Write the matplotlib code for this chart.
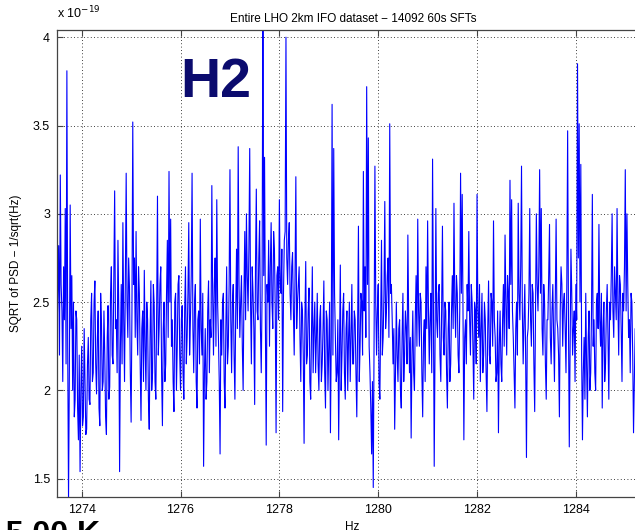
#!/usr/bin/env python3
"""
Recreate the H2 line-search spectrum panel:
  SQRT of PSD across 1273.5-1285.5 Hz, entire LHO 2km IFO dataset (14092 60s SFTs).
Writes out.png (635x530).
"""

import numpy as np
import matplotlib
matplotlib.use("Agg")
import matplotlib.pyplot as plt
import matplotlib.ticker as mticker

# ── Data (values in units of 1e-19 / sqrt(Hz)), one bin every 1/60 Hz ───────
F_START = 1273.5
F_STEP = 1.0 / 60.0

ASD = [
    2.30, 2.55, 2.82, 2.20, 3.22, 2.60, 2.45, 2.05, 2.70, 2.40, 3.03, 2.15, 3.81, 2.25, 1.38, 2.10, 3.05, 2.35, 2.65, 2.00,
    2.50, 1.85, 1.95, 2.45, 2.40, 1.90, 1.72, 2.20, 1.54, 2.00, 2.25, 1.80, 1.85, 2.35, 2.05, 1.75, 1.78, 2.15, 2.30, 1.95,
    1.92, 2.40, 2.55, 2.05, 2.10, 2.50, 2.62, 2.15, 1.98, 2.30, 2.45, 1.90, 1.80, 2.55, 2.38, 2.00, 2.05, 2.45, 2.20, 1.85,
    1.75, 2.30, 2.48, 1.95, 2.02, 2.55, 2.70, 2.20, 2.15, 2.65, 3.13, 2.35, 2.40, 2.10, 2.85, 2.45, 1.54, 2.25, 2.60, 2.15,
    2.95, 2.40, 2.05, 2.65, 3.23, 2.50, 2.30, 2.75, 2.58, 2.10, 1.82, 2.45, 3.52, 2.60, 2.75, 2.30, 2.90, 2.40, 2.20, 2.70,
    2.55, 2.15, 1.83, 2.35, 2.45, 2.05, 2.68, 2.25, 2.00, 2.50, 2.40, 1.95, 1.78, 2.30, 2.62, 2.00, 2.10, 2.60, 2.48, 2.05,
    1.95, 2.45, 3.10, 2.20, 2.35, 2.60, 2.70, 2.10, 1.80, 2.35, 2.50, 2.05, 2.15, 2.55, 2.85, 2.30, 3.24, 2.50, 2.97, 2.25,
    2.40, 2.05, 1.88, 2.50, 2.55, 2.00, 2.25, 2.60, 2.65, 2.20, 2.00, 2.40, 2.48, 2.10, 1.95, 2.45, 2.70, 2.15, 2.30, 2.55,
    2.95, 2.20, 2.40, 2.65, 3.23, 2.35, 2.10, 2.50, 2.60, 2.05, 1.90, 2.40, 2.45, 2.15, 2.97, 2.35, 2.20, 2.55, 1.57, 2.10,
    2.35, 1.95, 2.05, 2.45, 2.62, 2.10, 2.40, 2.30, 3.16, 2.55, 2.20, 2.60, 2.75, 2.25, 3.08, 2.50, 2.30, 2.05, 1.64, 2.40,
    2.20, 2.50, 2.55, 2.05, 1.90, 2.35, 2.70, 2.15, 2.25, 2.60, 3.25, 2.40, 2.10, 2.50, 2.60, 2.20, 1.95, 2.45, 2.80, 2.35,
    3.38, 2.60, 2.30, 2.50, 2.65, 2.25, 2.00, 2.55, 2.90, 2.40, 3.00, 2.65, 2.45, 2.80, 3.37, 2.50, 2.15, 2.70, 2.55, 2.35,
    1.92, 2.70, 3.14, 2.45, 2.40, 2.75, 2.96, 2.35, 2.10, 2.55, 4.30, 2.65, 3.32, 2.40, 1.69, 2.60, 2.50, 2.85, 2.25, 2.70,
    2.95, 2.50, 2.35, 2.90, 2.80, 2.45, 1.76, 2.65, 2.70, 2.40, 3.08, 2.60, 2.55, 2.80, 1.88, 2.55, 2.85, 2.90, 4.00, 2.75,
    2.60, 2.85, 2.95, 2.55, 2.40, 2.70, 2.78, 2.45, 2.20, 2.65, 3.21, 2.35, 2.50, 2.60, 2.70, 2.30, 2.05, 2.50, 2.45, 2.20,
    1.70, 2.40, 2.73, 2.15, 2.20, 2.45, 2.58, 2.05, 1.95, 2.35, 2.70, 2.10, 2.35, 2.50, 2.10, 2.30, 2.55, 2.15, 2.00, 2.40,
    2.48, 2.05, 2.15, 2.35, 2.62, 2.10, 1.90, 2.45, 2.40, 2.00, 2.25, 2.50, 1.76, 2.30, 3.62, 2.20, 3.37, 2.55, 2.30, 2.05,
    2.10, 2.40, 1.72, 2.25, 2.71, 2.00, 2.20, 2.45, 2.55, 2.10, 1.95, 2.35, 2.45, 2.00, 2.30, 2.50, 2.05, 2.30, 2.60, 2.15,
    2.15, 2.45, 2.40, 2.10, 1.85, 2.35, 2.93, 2.05, 2.25, 2.55, 2.50, 2.20, 3.24, 2.45, 2.70, 2.30, 3.72, 2.60, 3.43, 2.25,
    2.10, 1.90, 1.64, 2.05, 1.45, 2.30, 3.27, 2.50, 2.20, 2.45, 2.60, 2.05, 1.95, 2.40, 2.85, 2.20, 2.30, 2.55, 3.07, 2.35,
    2.45, 2.65, 2.75, 2.30, 3.51, 2.55, 2.60, 2.40, 2.15, 2.35, 1.78, 2.10, 2.50, 2.20, 2.05, 2.35, 2.40, 2.00, 1.90, 2.30,
    2.55, 2.05, 2.20, 2.45, 2.35, 2.15, 2.88, 2.40, 2.10, 2.30, 1.73, 2.20, 2.45, 2.10, 2.00, 2.40, 2.65, 2.25, 2.97, 2.45,
    2.25, 2.55, 2.50, 2.10, 1.85, 2.30, 2.40, 2.05, 2.70, 2.35, 2.96, 2.45, 2.15, 2.40, 2.55, 2.10, 3.31, 2.50, 1.57, 2.25,
    3.03, 2.40, 2.30, 2.55, 2.60, 2.20, 2.05, 2.45, 2.93, 2.30, 2.20, 2.50, 2.45, 2.10, 1.90, 2.35, 2.50, 2.05, 2.15, 2.45,
    2.65, 2.35, 3.06, 2.50, 2.30, 2.65, 2.55, 2.20, 2.10, 2.45, 3.23, 2.55, 3.11, 2.40, 1.72, 2.30, 2.40, 2.15, 2.60, 2.45,
    2.90, 2.40, 2.20, 2.60, 2.50, 2.25, 1.95, 2.50, 2.45, 2.15, 3.11, 2.45, 2.30, 2.60, 2.05, 2.35, 2.55, 2.10, 2.20, 2.50,
    2.40, 2.10, 1.88, 2.35, 2.62, 2.20, 2.15, 2.55, 2.50, 2.25, 2.96, 2.40, 2.30, 2.05, 2.10, 2.45, 1.76, 2.25, 2.45, 2.15,
    2.05, 2.40, 2.60, 2.25, 2.88, 2.50, 2.20, 2.65, 2.55, 2.35, 3.19, 2.60, 3.08, 2.45, 2.30, 2.10, 1.90, 2.35, 2.50, 2.20,
    3.06, 2.55, 2.40, 2.70, 3.27, 2.45, 2.15, 2.40, 2.60, 2.20, 1.62, 2.30, 2.35, 2.55, 3.03, 2.40, 2.25, 2.60, 2.55, 2.15,
    1.88, 2.45, 3.00, 2.60, 2.45, 2.70, 3.25, 2.55, 3.03, 2.35, 2.20, 2.60, 2.50, 2.15, 1.95, 2.40, 2.40, 2.65, 2.94, 2.30,
    2.15, 2.45, 2.60, 2.30, 2.05, 2.50, 2.97, 2.40, 2.35, 2.20, 1.85, 2.45, 2.70, 2.60, 2.25, 2.50, 2.55, 2.35, 2.10, 2.60,
    3.47, 2.40, 1.68, 2.25, 2.80, 2.55, 2.20, 2.35, 2.45, 2.05, 2.60, 2.40, 3.85, 2.75, 3.51, 2.50, 3.28, 2.20, 1.72, 2.10,
    2.30, 1.95, 2.55, 2.15, 1.85, 2.30, 2.45, 2.00, 2.10, 2.45, 3.11, 2.25, 2.40, 2.10, 2.00, 2.50, 2.55, 2.35, 2.94, 2.40,
    2.25, 2.55, 1.90, 2.35, 2.50, 2.05, 2.15, 2.45, 2.60, 2.30, 1.95, 2.50, 2.40, 2.65, 3.00, 2.45, 2.30, 2.70, 2.55, 2.40,
    3.03, 2.50, 2.20, 2.65, 2.60, 2.35, 2.05, 2.55, 2.45, 2.70, 3.25, 2.45, 3.00, 2.60, 2.30, 2.40, 2.10, 2.55, 2.50, 2.20,
    1.76, 2.05, 2.35, 2.20, 2.60, 2.40, 2.10, 2.30, 2.45, 2.15, 2.20, 2.45, 2.55, 2.30, 1.95, 2.20, 2.40, 2.50, 2.25, 2.35, 2.50,
]

X_TICKS = [1274, 1276, 1278, 1280, 1282, 1284]
Y_TICKS = [1.5, 2, 2.5, 3, 3.5, 4]
Y_TICK_LABELS = ["1.5", "2", "2.5", "3", "3.5", "4"]

TITLE = "Entire LHO 2km IFO dataset \u2212 14092 60s SFTs"
YLABEL = "SQRT of PSD \u2212 1/sqrt(Hz)"

plt.rcParams.update({
    "font.family": ["Liberation Sans", "DejaVu Sans"],
    "font.size": 9,
    "axes.linewidth": 0.9,
    "axes.edgecolor": "#444444",
    "xtick.direction": "in",
    "ytick.direction": "in",
    "xtick.major.size": 4,
    "ytick.major.size": 4,
})


def main():
    freqs = F_START + F_STEP * np.arange(len(ASD))
    asd = np.array(ASD)

    fig = plt.figure(figsize=(6.35, 5.30), dpi=100)
    # axes runs a little past the right edge of the picture, as in the slide
    ax = fig.add_axes([57 / 635, 33.3 / 530, 593 / 635, 466.7 / 530])

    ax.plot(freqs, asd, color="#0000ff", linewidth=0.8)

    ax.set_xlim(1273.5, 1285.5)
    ax.set_ylim(1.398, 4.041)
    ax.set_xticks(X_TICKS)
    ax.set_yticks(Y_TICKS)
    ax.set_yticklabels(Y_TICK_LABELS)
    ax.xaxis.set_minor_locator(mticker.NullLocator())
    ax.yaxis.set_minor_locator(mticker.NullLocator())
    ax.tick_params(top=True, right=True, labelsize=9, pad=5, color="#444444")
    ax.grid(True, color="black", linestyle=(0, (1, 3)), linewidth=0.6)

    ax.set_title(TITLE, fontsize=8.5, pad=6)
    ax.set_ylabel(YLABEL, fontsize=8.5, labelpad=8)

    # axis exponent and x label as in the MATLAB export
    fig.text(57 / 635, 1 - 18 / 530, r"x 10$^{-19}$", fontsize=9, va="baseline")
    fig.text(345 / 635, 1 - 530 / 530, "Hz", fontsize=8.5, va="baseline")

    # slide annotations
    fig.text(180 / 635, 1 - 97 / 530, "H2", fontsize=40, fontweight="bold",
             color="#0b0b6e", va="baseline")
    fig.text(-12 / 635, 1 - 543 / 530, "15.00 K", fontsize=23,
             fontweight="bold", color="black", va="baseline")

    fig.savefig("out.png", dpi=100)
    plt.close(fig)


if __name__ == "__main__":
    main()
